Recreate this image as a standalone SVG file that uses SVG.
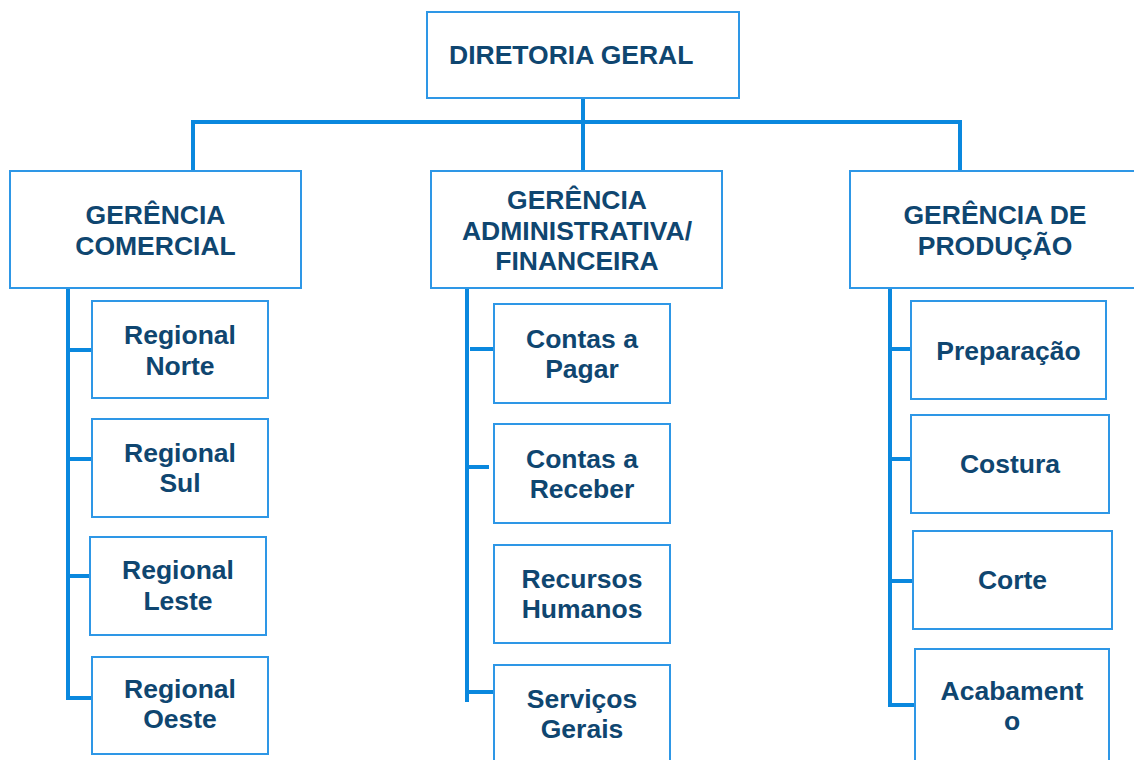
<svg xmlns="http://www.w3.org/2000/svg" width="1134" height="760" viewBox="0 0 1134 760">
<style>
.box{fill:#ffffff;stroke:#2e97e6;stroke-width:2}
.ln{fill:none;stroke:#0a88de;stroke-width:4}
text{font-family:"Liberation Sans",Arial,sans-serif;font-weight:bold;font-size:26.5px;fill:#0f4670}
.c{text-anchor:middle}
</style>
<rect width="1134" height="760" fill="#ffffff"/>
<g id="connectors">
<path class="ln" d="M583 98V170M193 170V122H960V170"/>
<path class="ln" d="M68 288V698H92M68 350H92M68 459H92M68 576H93"/>
<path class="ln" d="M467 288V702M470 349H494M467 467H489M467 692H494"/>
<path class="ln" d="M890 288V705H915M890 349H913M888 459H911M890 581H915"/>
</g>
<g id="diretoria"><rect class="box" x="427" y="12" width="312" height="86"/><text x="449" y="64">DIRETORIA GERAL</text></g>
<g id="comercial"><rect class="box" x="10" y="171" width="291" height="117"/><text class="c" x="155.5" y="224">GERÊNCIA</text><text class="c" x="155.5" y="255">COMERCIAL</text></g>
<g id="administrativa"><rect class="box" x="431" y="171" width="291" height="117"/><text class="c" x="577" y="209">GERÊNCIA</text><text class="c" x="577" y="240">ADMINISTRATIVA/</text><text class="c" x="577" y="270">FINANCEIRA</text></g>
<g id="producao"><rect class="box" x="850" y="171" width="300" height="117"/><text class="c" x="995" y="224">GERÊNCIA DE</text><text class="c" x="995" y="255">PRODUÇÃO</text></g>
<g id="norte"><rect class="box" x="92" y="301" width="176" height="97"/><text class="c" x="180" y="344">Regional</text><text class="c" x="180" y="375">Norte</text></g>
<g id="sul"><rect class="box" x="92" y="419" width="176" height="98"/><text class="c" x="180" y="462">Regional</text><text class="c" x="180" y="492">Sul</text></g>
<g id="leste"><rect class="box" x="90" y="537" width="176" height="98"/><text class="c" x="178" y="579">Regional</text><text class="c" x="178" y="610">Leste</text></g>
<g id="oeste"><rect class="box" x="92" y="657" width="176" height="97"/><text class="c" x="180" y="698">Regional</text><text class="c" x="180" y="728">Oeste</text></g>
<g id="pagar"><rect class="box" x="494" y="304" width="176" height="99"/><text class="c" x="582" y="348">Contas a</text><text class="c" x="582" y="378">Pagar</text></g>
<g id="receber"><rect class="box" x="494" y="424" width="176" height="99"/><text class="c" x="582" y="468">Contas a</text><text class="c" x="582" y="498">Receber</text></g>
<g id="rh"><rect class="box" x="494" y="545" width="176" height="98"/><text class="c" x="582" y="588">Recursos</text><text class="c" x="582" y="618">Humanos</text></g>
<g id="servicos"><rect class="box" x="494" y="665" width="176" height="110"/><text class="c" x="582" y="708">Serviços</text><text class="c" x="582" y="738">Gerais</text></g>
<g id="preparacao"><rect class="box" x="911" y="301" width="195" height="98"/><text class="c" x="1008.5" y="360">Preparação</text></g>
<g id="costura"><rect class="box" x="911" y="415" width="198" height="98"/><text class="c" x="1010" y="473">Costura</text></g>
<g id="corte"><rect class="box" x="913" y="531" width="199" height="98"/><text class="c" x="1012.5" y="589">Corte</text></g>
<g id="acabamento"><rect class="box" x="915" y="649" width="194" height="126"/><text class="c" x="1012" y="700">Acabament</text><text class="c" x="1012" y="730">o</text></g>
</svg>
